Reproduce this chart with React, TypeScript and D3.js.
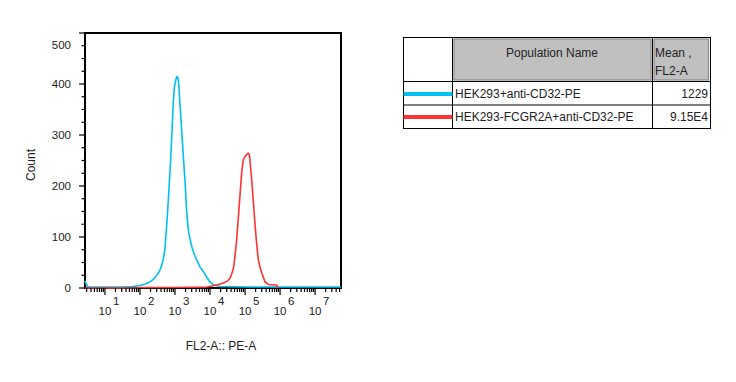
import React from "react";
import * as d3 from "d3";

// ---- data (log10 of FL2-A value, count) ----
const blueLog = [0.43, 0.46, 0.5, 0.55, 1.0, 1.5, 1.8, 2.0, 2.15, 2.29, 2.38, 2.47, 2.55, 2.61, 2.67, 2.71, 2.76, 2.81, 2.86, 2.89, 2.92, 2.95, 2.98, 3.02, 3.05, 3.08, 3.11, 3.14, 3.19, 3.24, 3.29, 3.33, 3.38, 3.43, 3.48, 3.55, 3.62, 3.71, 3.81, 3.9, 4.0, 4.1, 4.3, 5.0, 6.0, 7.0, 7.74];
const blueCount = [14, 8, 3, 2, 2, 2, 3, 5, 8, 12, 17, 24, 32, 42, 58, 75, 120, 173, 232, 271, 316, 362, 392, 408, 414, 413, 398, 363, 310, 257, 205, 153, 114, 95, 81, 66, 55, 42, 32, 22, 12, 6, 3, 2, 2, 2, 2];

const redLog = [0.43, 1.9, 2.0, 3.0, 3.91, 4.05, 4.19, 4.38, 4.5, 4.57, 4.62, 4.67, 4.71, 4.76, 4.81, 4.86, 4.91, 4.95, 5.0, 5.05, 5.09, 5.12, 5.14, 5.19, 5.24, 5.29, 5.33, 5.38, 5.43, 5.48, 5.57, 5.67, 5.8, 5.9, 5.95];
const redCount = [0, 0, 1, 1, 2, 4, 6, 10, 14, 19, 28, 39, 61, 94, 140, 186, 231, 251, 258, 262, 264, 262, 251, 212, 167, 120, 88, 55, 40, 29, 12, 7, 6, 6, 0];

const yTicks = [0, 100, 200, 300, 400, 500];
const xDecades = [1, 2, 3, 4, 5, 6, 7];

const legendNames = ["HEK293+anti-CD32-PE", "HEK293-FCGR2A+anti-CD32-PE"];
const legendMeans = ["1229", "9.15E4"];
const legendColors = ["#00BFF3", "#FF3333"];

const FONT = "Arial, 'Liberation Sans', Helvetica, sans-serif";

export default function App() {
  const left = 85, right = 341, top = 33, bottom = 288;
  const x = d3.scaleLog().domain([Math.pow(10, 0.43), Math.pow(10, 7.74)]).range([left, right]);
  const y = d3.scaleLinear().domain([0, 500]).range([bottom, top]);

  const line = d3
    .line<[number, number]>()
    .x((d) => x(Math.pow(10, d[0])))
    .y((d) => y(d[1]))
    .curve(d3.curveLinear);

  const blue = blueLog.map((l, i) => [l, blueCount[i]] as [number, number]);
  const red = redLog.map((l, i) => [l, redCount[i]] as [number, number]);

  // minor ticks
  const xMinor: number[] = [];
  for (let dd = 0; dd <= 7; dd++) {
    for (let k = 2; k <= 9; k++) {
      const v = k * Math.pow(10, dd);
      const [a, b] = x.domain();
      if (v >= a && v <= b) xMinor.push(v);
    }
  }
  const yMinor: number[] = [];
  for (let v = 25; v < 500; v += 25) if (v % 100 !== 0) yMinor.push(v);

  // table geometry
  const tL = 403.5, tR = 710.5, tT = 37.5, tB = 128.5;
  const c1 = 452.5, c2 = 652.5, r1 = 81.5, r2 = 105;

  return (
    <svg
      width={736}
      height={382}
      style={{ display: "block", position: "absolute", left: 0, top: 0, fontFamily: FONT }}
    >
      {/* frame */}
      <rect x={left} y={top} width={right - left} height={bottom - top} fill="none" stroke="#000" strokeWidth={2} />

      {/* curves */}
      <path d={line(blue) || ""} fill="none" stroke="#00BFF3" strokeWidth={1.6} />
      <path d={line(red) || ""} fill="none" stroke="#FF3333" strokeWidth={1.6} />

      {/* y axis ticks */}
      {yTicks.map((v) => (
        <g key={"yt" + v}>
          <line x1={left - 6} x2={left} y1={y(v)} y2={y(v)} stroke="#000" strokeWidth={1.2} />
          <text
            x={71}
            y={Math.max(y(v), top + 12)}
            dy="0.35em"
            textAnchor="end"
            fontSize={11.5}
            fill="#222"
          >
            {v}
          </text>
        </g>
      ))}
      {yMinor.map((v) => (
        <line key={"ym" + v} x1={left - 3.5} x2={left} y1={y(v)} y2={y(v)} stroke="#000" strokeWidth={1.2} />
      ))}

      {/* x axis ticks */}
      {xMinor.map((v) => (
        <line key={"xm" + v} x1={x(v)} x2={x(v)} y1={bottom} y2={bottom + 4} stroke="#000" strokeWidth={1.2} />
      ))}
      {xDecades.map((dd) => {
        const px = x(Math.pow(10, dd));
        return (
          <g key={"xd" + dd}>
            <line x1={px} x2={px} y1={bottom} y2={bottom + 7} stroke="#000" strokeWidth={1.2} />
            <text x={px} y={315} textAnchor="middle" fontSize={11.5} fill="#222">
              10
            </text>
            <text x={px + 8} y={305} textAnchor="start" fontSize={11.5} fill="#222">
              {dd}
            </text>
          </g>
        );
      })}

      {/* axis titles */}
      <text x={221} y={350} textAnchor="middle" fontSize={12} fill="#222">
        FL2-A:: PE-A
      </text>
      <text
        transform={`translate(35,165) rotate(-90)`}
        textAnchor="middle"
        fontSize={12}
        fill="#222"
      >
        Count
      </text>

      {/* legend table */}
      <rect x={454} y={39} width={c2 - 454 - 1.5} height={r1 - 39 - 1.5} fill="#C0C0C0" stroke="#8a8a8a" strokeWidth={1.2} />
      <rect x={654} y={39} width={708.5 - 654} height={r1 - 39 - 1.5} fill="#C0C0C0" stroke="#8a8a8a" strokeWidth={1.2} />
      <rect x={tL} y={tT} width={tR - tL} height={tB - tT} fill="none" stroke="#000" strokeWidth={1} />
      <line x1={c1} x2={c1} y1={tT} y2={tB} stroke="#000" strokeWidth={1} />
      <line x1={c2} x2={c2} y1={tT} y2={tB} stroke="#000" strokeWidth={1} />
      <line x1={tL} x2={tR} y1={r1} y2={r1} stroke="#000" strokeWidth={1} />
      <line x1={tL} x2={tR} y1={r2} y2={r2} stroke="#000" strokeWidth={1} />

      <text x={552} y={53} dy="0.35em" textAnchor="middle" fontSize={12} fill="#222">
        Population Name
      </text>
      <text x={655} y={53} dy="0.35em" fontSize={12} fill="#222">
        Mean ,
      </text>
      <text x={655} y={71} dy="0.35em" fontSize={12} fill="#222">
        FL2-A
      </text>

      {legendNames.map((n, i) => {
        const cy = i === 0 ? 94 : 117;
        return (
          <g key={n}>
            <line x1={tL} x2={c1} y1={cy} y2={cy} stroke={legendColors[i]} strokeWidth={4} />
            <text x={455} y={cy} dy="0.35em" fontSize={12} fill="#222">
              {n}
            </text>
            <text x={708} y={cy} dy="0.35em" textAnchor="end" fontSize={12} fill="#222">
              {legendMeans[i]}
            </text>
          </g>
        );
      })}
    </svg>
  );
}
